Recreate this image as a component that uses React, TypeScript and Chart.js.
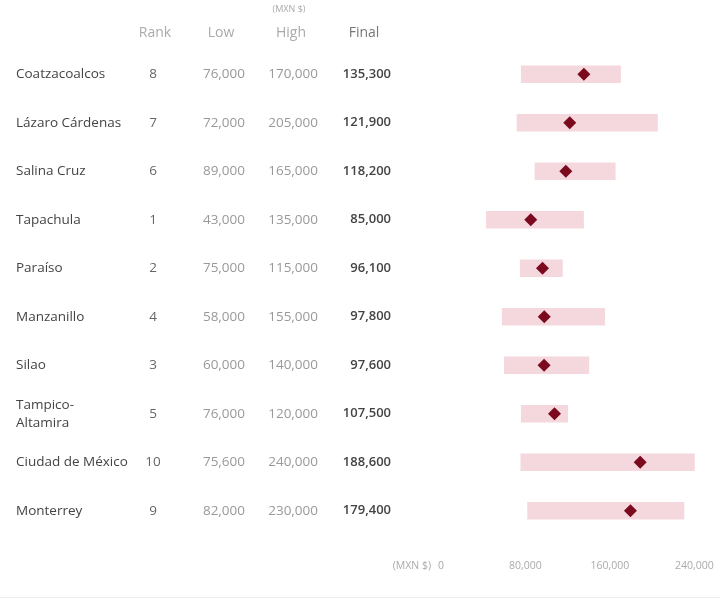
import React, { useEffect, useRef } from "react";
import { Chart, registerables } from "chart.js";

Chart.register(...registerables);

const cities = [
  "Coatzacoalcos",
  "Lázaro Cárdenas",
  "Salina Cruz",
  "Tapachula",
  "Paraíso",
  "Manzanillo",
  "Silao",
  "Tampico-\nAltamira",
  "Ciudad de México",
  "Monterrey",
];
const ranks = [8, 7, 6, 1, 2, 4, 3, 5, 10, 9];
const lows = [76000, 72000, 89000, 43000, 75000, 58000, 60000, 76000, 75600, 82000];
const highs = [170000, 205000, 165000, 135000, 115000, 155000, 140000, 120000, 240000, 230000];
const finals = [135300, 121900, 118200, 85000, 96100, 97800, 97600, 107500, 188600, 179400];
const xTicks = [0, 80000, 160000, 240000];
const headers = ["Rank", "Low", "High", "Final"];
const unitLabel = "(MXN $)";

const FONT = "'Open Sans', sans-serif";
const fmt = (v: number) => v.toLocaleString("en-US");

const tablePlugin = {
  id: "tablePlugin",
  afterDraw(chart: any) {
    const ctx = chart.ctx;
    const y = chart.scales.y;
    const x = chart.scales.x;
    ctx.save();
    ctx.textBaseline = "middle";
    // header
    ctx.font = `9px ${FONT}`;
    ctx.fillStyle = "#aaa";
    ctx.textAlign = "center";
    ctx.fillText(unitLabel, 289, 9);
    ctx.font = `14px ${FONT}`;
    ctx.fillStyle = "#aaa";
    ctx.fillText(headers[0], 155, 33);
    ctx.fillText(headers[1], 221, 33);
    ctx.fillText(headers[2], 291, 33);
    ctx.fillStyle = "#777";
    ctx.fillText(headers[3], 364, 33);

    cities.forEach((c, i) => {
      const py = y.getPixelForValue(i);
      const lines = c.split("\n");
      ctx.font = `13.5px ${FONT}`;
      ctx.fillStyle = "#444";
      ctx.textAlign = "left";
      lines.forEach((ln, k) => {
        ctx.fillText(ln, 16, py + (k - (lines.length - 1) / 2) * 18);
      });
      ctx.fillStyle = "#666";
      ctx.textAlign = "center";
      ctx.fillText(String(ranks[i]), 153, py);
      ctx.fillStyle = "#999";
      ctx.textAlign = "right";
      ctx.fillText(fmt(lows[i]), 245, py);
      ctx.fillText(fmt(highs[i]), 318, py);
      ctx.font = `600 13px ${FONT}`;
      ctx.fillStyle = "#444";
      ctx.fillText(fmt(finals[i]), 391, py);
    });

    // x axis tick labels
    ctx.font = `10.5px ${FONT}`;
    ctx.fillStyle = "#aaa";
    ctx.textAlign = "center";
    xTicks.forEach((v) => {
      ctx.fillText(fmt(v), x.getPixelForValue(v), 566);
    });
    ctx.textAlign = "right";
    ctx.fillText(unitLabel, x.getPixelForValue(0) - 10, 566);
    ctx.restore();
  },
};

export default function App() {
  const ref = useRef<HTMLCanvasElement>(null);
  useEffect(() => {
    document.body.style.margin = "0";
    const chart = new Chart(ref.current!, {
      type: "bar",
      data: {
        labels: cities,
        datasets: [
          {
            type: "line" as any,
            data: finals,
            showLine: false,
            pointStyle: "rectRot",
            pointRadius: 6.5,
            pointBackgroundColor: "#7b0a1e",
            pointBorderColor: "#7b0a1e",
            pointBorderWidth: 0,
          } as any,
          {
            type: "bar",
            data: lows.map((l, i) => [l, highs[i]]) as any,
            backgroundColor: "rgba(235, 175, 190, 0.5)",
            borderWidth: 0,
            barThickness: 17,
          },
        ],
      },
      options: {
        indexAxis: "y",
        responsive: false,
        animation: false,
        layout: { padding: { left: 441, right: 15, top: 50, bottom: 65 } },
        plugins: { legend: { display: false }, tooltip: { enabled: false } },
        scales: {
          y: { display: false, offset: true },
          x: {
            display: false,
            min: 0,
            max: 250000,
            afterBuildTicks: (s: any) => {
              s.ticks = xTicks.map((v) => ({ value: v }));
            },
          },
        },
      },
      plugins: [tablePlugin],
    });
    return () => chart.destroy();
  }, []);
  return (
    <div style={{ width: 720, height: 600, position: "relative" }}>
      <canvas ref={ref} width={720} height={600} />
      <div
        style={{
          position: "absolute",
          left: 0,
          right: 0,
          top: 597,
          height: 1,
          background: "#eee",
        }}
      />
    </div>
  );
}
